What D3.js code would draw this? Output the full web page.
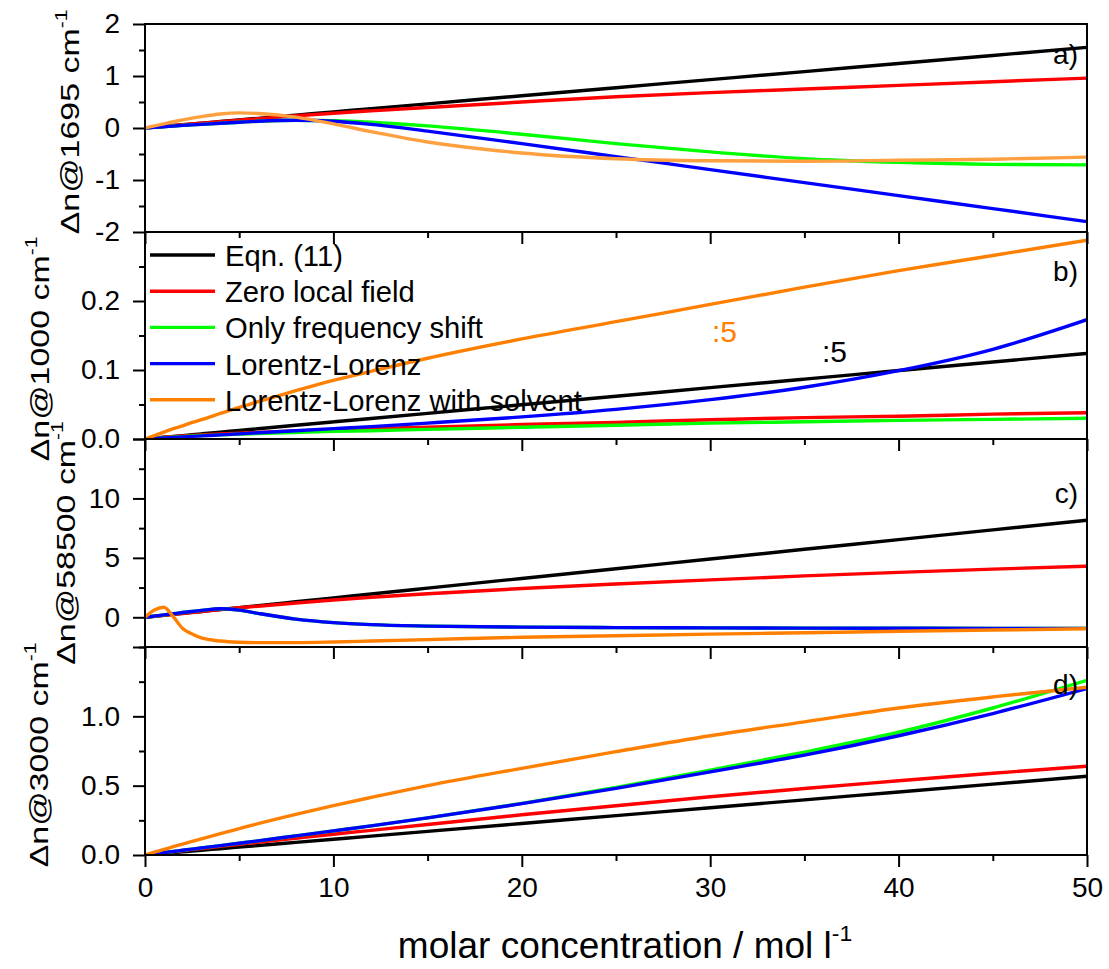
<!DOCTYPE html>
<html>
<head>
<meta charset="utf-8">
<script src="https://d3js.org/d3.v7.min.js"></script>
<style>
	body { margin: 0; background: white; }
	svg { display: block; }
	text { font-family: "Liberation Sans", Arial, sans-serif; fill: black; }
</style>
</head>
<body>
<svg id="chart" width="1109" height="969"></svg>
<script>
// molar concentration grid (mol/l)
const conc = [0, 0.5, 1, 1.5, 2, 2.5, 3, 4, 5, 6, 8, 10, 12, 15, 20, 25, 30, 35, 40, 45, 50];

// a) 1695 cm-1
const aEqn  = [0, .016, .031, .047, .062, .078, .093, .124, .155, .186, .248, .31, .372, .465, .62, .775, .93, 1.085, 1.24, 1.395, 1.55];
const aZero = [0, .016, .032, .048, .063, .078, .093, .122, .15, .178, .235, .285, .33, .395, .5, .6, .68, .75, .82, .89, .96];
const aFreq = [0, .012, .025, .037, .05, .06, .07, .09, .11, .13, .15, .14, .11, .04, -.12, -.3, -.46, -.59, -.66, -.7, -.71];
const aLL   = [0, .012, .025, .037, .05, .06, .07, .09, .11, .13, .15, .13, .07, -.06, -.3, -.55, -.8, -1.05, -1.3, -1.55, -1.8];
const aLLS  = [0, .04, .08, .12, .155, .19, .22, .27, .29, .28, .21, .08, -.07, -.27, -.48, -.59, -.63, -.64, -.62, -.6, -.56];

// b) 1000 cm-1
const bEqn  = [0, .00124, .00248, .00372, .00496, .0062, .00744, .00992, .0124, .01488, .01984, .0248, .02976, .0372, .0496, .062, .0744, .0868, .0992, .1116, .124];
const bZero = [0, .001, .0025, .0035, .0045, .0053, .006, .0075, .0085, .0095, .0115, .013, .015, .017, .021, .024, .028, .031, .033, .036, .038];
const bFreq = [0, .0008, .0018, .0027, .0035, .0043, .005, .006, .007, .008, .0095, .011, .012, .014, .017, .02, .023, .025, .027, .0285, .03];
const bLL   = [0, .0008, .0015, .0023, .003, .0038, .0045, .006, .0075, .009, .012, .015, .018, .023, .032, .043, .057, .075, .099, .13, .173];
const bLLS  = [0, .005, .01, .015, .019, .024, .028, .037, .046, .054, .07, .085, .098, .117, .145, .17, .195, .22, .244, .266, .288];

// c) 58500 cm-1
const cEqn  = [0, .082, .163, .245, .327, .409, .49, .654, .817, .98, 1.307, 1.634, 1.961, 2.451, 3.268, 4.085, 4.902, 5.719, 6.536, 7.353, 8.17];
const cZero = [0, .08, .16, .24, .32, .4, .48, .65, .8, .93, 1.2, 1.45, 1.68, 1.98, 2.42, 2.8, 3.15, 3.48, 3.78, 4.05, 4.3];
const cFreq = [0, .1, .2, .3, .4, .49, .58, .72, .6, .33, -.15, -.45, -.62, -.74, -.83, -.87, -.89, -.91, -.92, -.93, -.93];
const cLL   = [0, .1, .2, .3, .4, .49, .58, .72, .6, .33, -.15, -.45, -.62, -.74, -.83, -.87, -.89, -.91, -.92, -.93, -.93];
const cLLS  = [0, .62, .85, .05, -.95, -1.4, -1.74, -2.0, -2.1, -2.13, -2.13, -2.08, -2.0, -1.88, -1.68, -1.55, -1.42, -1.3, -1.18, -1.07, -.97];

// d) 3000 cm-1
const dEqn  = [0, .0057, .0114, .017, .0227, .0284, .0341, .0454, .0568, .0682, .0909, .1136, .1363, .1704, .2272, .284, .3408, .3976, .4544, .5112, .568];
const dZero = [0, .008, .016, .023, .031, .039, .046, .062, .077, .092, .121, .15, .178, .22, .29, .355, .42, .48, .535, .59, .64];
const dFreq = [0, .0085, .017, .0255, .034, .042, .051, .068, .085, .102, .138, .174, .21, .268, .372, .487, .612, .742, .885, 1.06, 1.26];
const dLL   = [0, .0085, .017, .0255, .034, .042, .051, .068, .085, .102, .138, .174, .21, .268, .37, .48, .6, .72, .86, 1.02, 1.2];
const dLLS  = [0, .02, .04, .06, .079, .098, .117, .154, .19, .226, .293, .356, .415, .5, .625, .745, .86, .96, 1.06, 1.14, 1.21];

const seriesNames = ["Eqn. (11)", "Zero local field", "Only frequency shift", "Lorentz-Lorenz", "Lorentz-Lorenz with solvent"];
const colors = ["#000000", "#ff0000", "#00ff00", "#0000ff", "#ff8000"];

const xTicks = [0, 10, 20, 30, 40, 50];
const xMinor = [5, 15, 25, 35, 45];

// plain hyphen for negatives, like the original
const intFmt = d => String(d);
const oneDec = d => d.toFixed(1);

const panels = [
	{ id: "a", series: [aEqn, aZero, aFreq, aLL, aLLS], domain: [-2, 2], major: [-2, -1, 0, 1, 2], minor: [-1.5, -0.5, 0.5, 1.5], fmt: intFmt,
	  top: 24, bottom: 232, title: "\u0394n@1695 cm", tx: 79, ty: 122, tag: "a)", tagY: 64, orange: "#ffa040" },
	{ id: "b", series: [bEqn, bZero, bFreq, bLL, bLLS], domain: [0, 0.3], major: [0, 0.1, 0.2], minor: [0.05, 0.15, 0.25], fmt: oneDec,
	  top: 232, bottom: 439, title: "\u0394n@1000 cm", tx: 49, ty: 349, tag: "b)", tagY: 281 },
	{ id: "c", series: [cEqn, cZero, cFreq, cLL, cLLS], domain: [-2.5, 15], major: [0, 5, 10, 15], minor: [-2.5, 2.5, 7.5, 12.5], fmt: d => d === 15 ? "" : intFmt(d),
	  top: 439, bottom: 647, title: "\u0394n@58500 cm", tx: 75, ty: 543, tag: "c)", tagY: 503 },
	{ id: "d", series: [dEqn, dZero, dFreq, dLL, dLLS], domain: [0, 1.5], major: [0, 0.5, 1.0, 1.5], minor: [0.25, 0.75, 1.25], fmt: d => d === 1.5 ? "" : oneDec(d),
	  top: 647, bottom: 855, title: "\u0394n@3000 cm", tx: 48, ty: 755, tag: "d)", tagY: 694 }
];

const svg = d3.select("#chart");
const left = 145, right = 1087;
const xScale = d3.scaleLinear().domain([0, 50]).range([left, right]);

function drawPanel(p, i) {
	let yScale = d3.scaleLinear().domain(p.domain).range([p.bottom, p.top]);
	let g = svg.append("g");

	g.append("clipPath").attr("id", "clip" + p.id)
		.append("rect").attr("x", left).attr("y", p.top).attr("width", right - left).attr("height", p.bottom - p.top);

	let line = d3.line()
		.x((d, k) => xScale(conc[k]))
		.y(d => yScale(d))
		.curve(d3.curveMonotoneX);

	let lines = g.append("g").attr("clip-path", `url(#clip${p.id})`);
	p.series.forEach((s, k) => {
		lines.append("path")
			.datum(s)
			.attr("d", line)
			.attr("fill", "none")
			.attr("stroke", (k === 4 && p.orange) ? p.orange : colors[k])
			.attr("stroke-width", 3.4)
			.attr("stroke-linejoin", "round");
	});

	// y axis, major + minor
	let yMajor = g.append("g").attr("transform", `translate(${left},0)`)
		.call(d3.axisLeft(yScale).tickValues(p.major).tickSize(12).tickPadding(13).tickFormat(p.fmt));
	let yMin = g.append("g").attr("transform", `translate(${left},0)`)
		.call(d3.axisLeft(yScale).tickValues(p.minor).tickSize(6).tickFormat(""));

	// x axis on the bottom edge of each panel
	let xMajor = g.append("g").attr("transform", `translate(0,${p.bottom})`)
		.call(d3.axisBottom(xScale).tickValues(xTicks).tickSize(12).tickPadding(10)
			.tickFormat(i === 3 ? intFmt : ""));
	let xMin = g.append("g").attr("transform", `translate(0,${p.bottom})`)
		.call(d3.axisBottom(xScale).tickValues(xMinor).tickSize(6).tickFormat(""));

	[yMajor, yMin, xMajor, xMin].forEach(ax => {
		ax.select(".domain").remove();
		ax.selectAll("line").attr("stroke", "black").attr("stroke-width", 2);
		ax.selectAll("text").attr("font-size", 28).attr("fill", "black")
			.style("font-family", '"Liberation Sans", Arial, sans-serif');
	});

	// frame
	g.append("rect")
		.attr("x", left).attr("y", p.top)
		.attr("width", right - left).attr("height", p.bottom - p.top)
		.attr("fill", "none").attr("stroke", "black").attr("stroke-width", 2);

	// y title (stretched along reading direction like the original)
	let t = g.append("text")
		.attr("transform", `translate(${p.tx},${p.ty}) rotate(-90) scale(1.33,1)`)
		.attr("text-anchor", "middle")
		.attr("font-size", 25.5);
	t.append("tspan").text(p.title);
	t.append("tspan").attr("dy", "-0.75em").attr("font-size", "0.62em").text("-1");

	g.append("text")
		.attr("x", 1078).attr("y", p.tagY)
		.attr("text-anchor", "end")
		.attr("font-size", 28)
		.text(p.tag);
}

panels.forEach(drawPanel);

// legend inside panel b
let legend = svg.append("g");
seriesNames.forEach((name, k) => {
	let y = 255 + k * 36.2;
	legend.append("line")
		.attr("x1", 150).attr("x2", 215).attr("y1", y).attr("y2", y)
		.attr("stroke", colors[k]).attr("stroke-width", 3.4);
	legend.append("text")
		.attr("x", 225).attr("y", y + 11)
		.attr("font-size", 29.2)
		.text(name);
});

// scale factor annotations
svg.append("text").attr("x", 712).attr("y", 342).attr("font-size", 30).style("fill", "#ff8000").text(":5");
svg.append("text").attr("x", 822).attr("y", 362).attr("font-size", 30).text(":5");

// x title
let xt = svg.append("text")
	.attr("x", 625).attr("y", 958)
	.attr("text-anchor", "middle")
	.attr("font-size", 37);
xt.append("tspan").text("molar concentration / mol l");
xt.append("tspan").attr("dy", "-0.75em").attr("font-size", "0.62em").text("-1");
</script>
</body>
</html>
